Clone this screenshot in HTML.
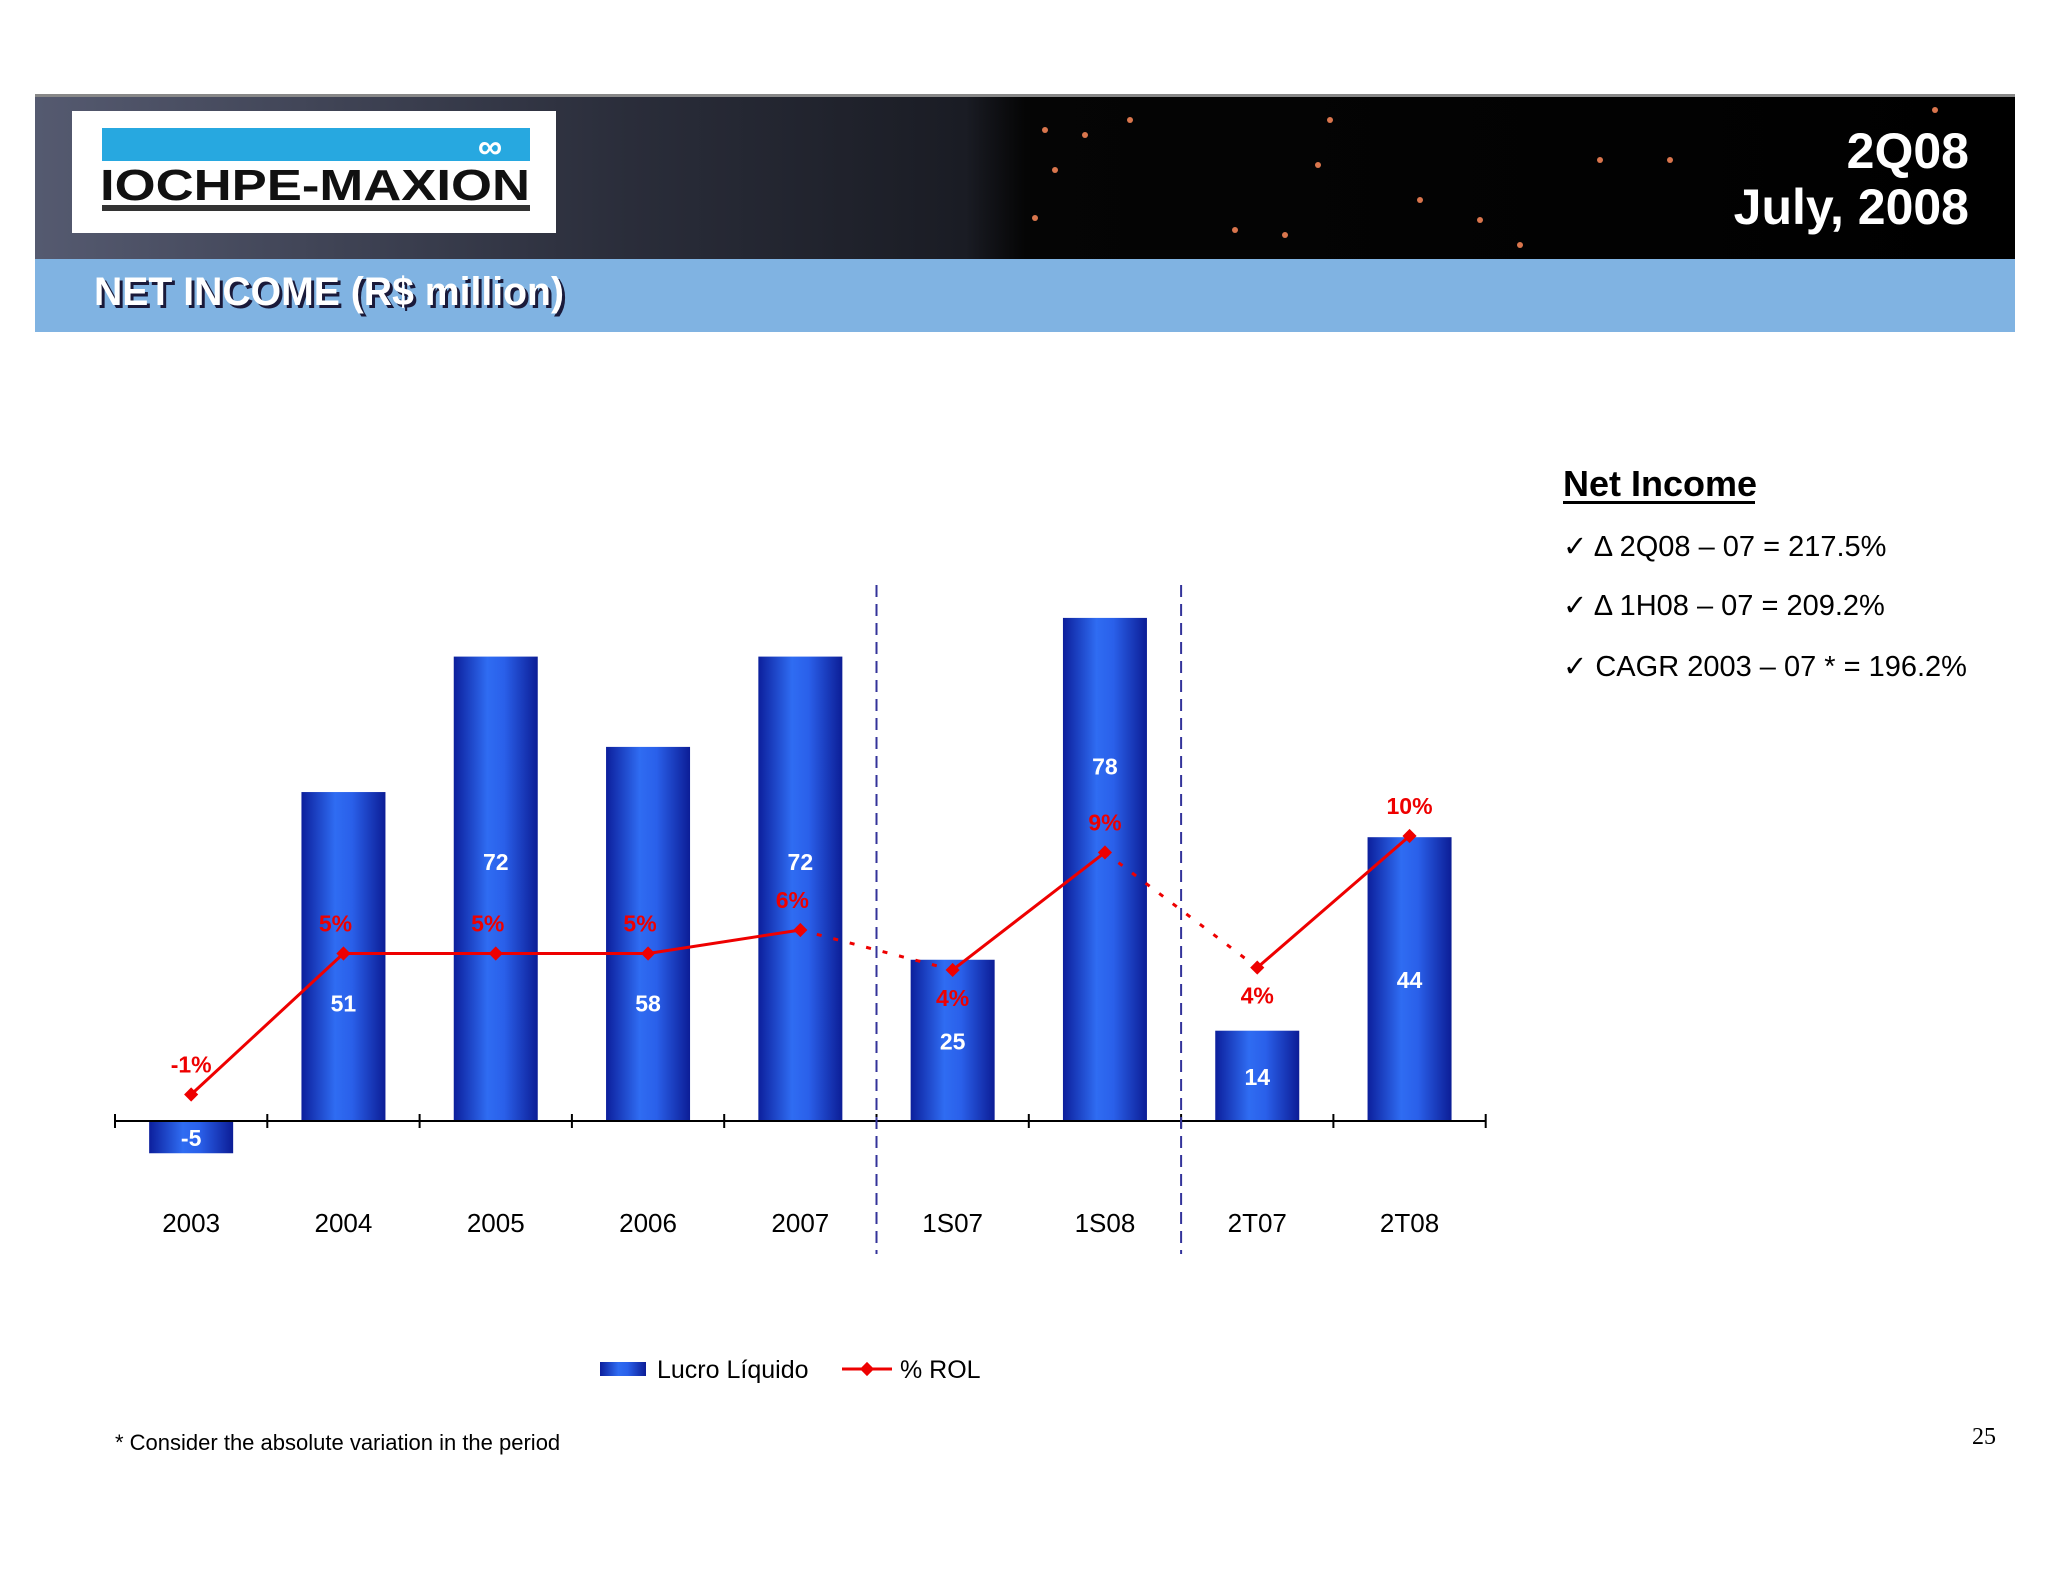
<!DOCTYPE html>
<html><head><meta charset="utf-8"><style>
html,body{margin:0;padding:0;background:#fff;}
svg{display:block;}
</style></head><body>
<svg id="page" width="2048" height="1582" viewBox="0 0 2048 1582" xmlns="http://www.w3.org/2000/svg" font-family="Liberation Sans, sans-serif">
<defs>
<linearGradient id="barGrad" x1="0" x2="1" y1="0" y2="0">
<stop offset="0" stop-color="#0c1f9c"/><stop offset="0.4" stop-color="#2f6cf2"/><stop offset="0.6" stop-color="#2a60ea"/><stop offset="1" stop-color="#0c1d96"/>
</linearGradient>
<linearGradient id="bannerGrad" x1="0" x2="1" y1="0" y2="0">
<stop offset="0" stop-color="#555a70"/><stop offset="0.3" stop-color="#2a2d3a"/><stop offset="0.47" stop-color="#1a1c24"/><stop offset="0.5" stop-color="#050505"/><stop offset="1" stop-color="#000"/>
</linearGradient>
</defs>
<g>
<rect x="35" y="94" width="1980" height="165" fill="url(#bannerGrad)"/>
<rect x="35" y="94" width="1980" height="3" fill="#888"/>
<g fill="#ff8a5a" opacity="0.85">
<circle cx="1045" cy="130" r="3"/><circle cx="1085" cy="135" r="3"/><circle cx="1130" cy="120" r="3"/><circle cx="1055" cy="170" r="3"/><circle cx="1035" cy="218" r="3"/><circle cx="1235" cy="230" r="3"/><circle cx="1285" cy="235" r="3"/><circle cx="1318" cy="165" r="3"/><circle cx="1420" cy="200" r="3"/><circle cx="1480" cy="220" r="3"/><circle cx="1600" cy="160" r="3"/><circle cx="1670" cy="160" r="3"/><circle cx="1520" cy="245" r="3"/><circle cx="1935" cy="110" r="3"/><circle cx="1330" cy="120" r="3"/>
</g>
<rect x="72" y="111" width="484" height="122" fill="#fff"/>
<rect x="102" y="128" width="428" height="33" fill="#27a8e0"/>
<text x="490" y="158" font-size="34" fill="#fff" font-weight="bold" text-anchor="middle">∞</text>
<text x="100" y="200" font-size="44" font-weight="bold" fill="#111" textLength="430" lengthAdjust="spacingAndGlyphs">IOCHPE-MAXION</text>
<rect x="102" y="205" width="428" height="6" fill="#333"/>
<text x="1969" y="168" font-size="50" font-weight="bold" fill="#fff" text-anchor="end">2Q08</text>
<text x="1969" y="224" font-size="50" font-weight="bold" fill="#fff" text-anchor="end">July, 2008</text>
</g>
<rect x="35" y="259" width="1980" height="73" fill="#80b3e2"/>
<text x="97" y="308" font-size="40" font-weight="bold" fill="#1a1a3a" textLength="470" lengthAdjust="spacingAndGlyphs">NET INCOME (R$ million)</text>
<text x="94" y="305" font-size="40" font-weight="bold" fill="#fff" textLength="470" lengthAdjust="spacingAndGlyphs">NET INCOME (R$ million)</text>

<g>
<text x="1563" y="496" font-size="36" font-weight="bold" fill="#000">Net Income</text>
<rect x="1563" y="501" width="192" height="3" fill="#000"/>
<text x="1563" y="556" font-size="29" fill="#000">✓  Δ 2Q08 – 07 = 217.5%</text>
<text x="1563" y="615" font-size="29" fill="#000">✓  Δ 1H08 – 07 = 209.2%</text>
<text x="1563" y="676" font-size="29" fill="#000">✓ CAGR 2003 – 07 * = 196.2%</text>
</g>

<g id="chart"></g>

<g>
<rect x="600" y="1362" width="46" height="14" fill="url(#barGrad)"/>
<text x="657" y="1378" font-size="25" fill="#000">Lucro Líquido</text>
<line x1="842" y1="1369" x2="892" y2="1369" stroke="#e00" stroke-width="3"/>
<rect x="862" y="1364" width="10" height="10" fill="#e00" transform="rotate(45 867 1369)"/>
<text x="900" y="1378" font-size="25" fill="#000">% ROL</text>
</g>
<text x="115" y="1450" font-size="22" fill="#000">* Consider the absolute variation in the period</text>
<text x="1996" y="1444" font-size="24" font-family="Liberation Serif, serif" text-anchor="end" fill="#000">25</text>
</svg>
<script>
const categories = ["2003","2004","2005","2006","2007","1S07","1S08","2T07","2T08"];
const netIncome = [-5, 51, 72, 58, 72, 25, 78, 14, 44];
const rolPct = [-1, 5, 5, 5, 6, 4.3, 9.3, 4.4, 10];
const rolLabels = ["-1%","5%","5%","5%","6%","4%","9%","4%","10%"];
const dottedSegments = [4, 6];

const NS = "http://www.w3.org/2000/svg";
const chart = document.getElementById('chart');
const x0 = 115, catW = 152.3, axisY = 1121, unit = 6.45;
function xC(i){ return x0 + catW*(i+0.5); }
function yBar(v){ return axisY - v*unit; }
function yPct(v){ return 1071 - 23.5*v; }
function mk(tag, attrs){ const e=document.createElementNS(NS,tag); for(const k in attrs) e.setAttribute(k, attrs[k]); chart.appendChild(e); return e; }

categories.forEach((c,i)=>{
  const v = netIncome[i];
  const b = mk('rect',{x:xC(i)-42, y:Math.min(yBar(v),axisY), width:84, height:Math.abs(v)*unit, fill:'url(#barGrad)'});
  
  
});
const ax = mk('line',{x1:x0, y1:axisY, x2:x0+catW*9, y2:axisY, stroke:'#000', 'stroke-width':2});


for(let i=0;i<=categories.length;i++){ mk('line',{x1:x0+catW*i, y1:axisY-7, x2:x0+catW*i, y2:axisY+7, stroke:'#000','stroke-width':2}); }
[5,7].forEach(i=>{
  const s = mk('line',{x1:x0+catW*i, y1:585, x2:x0+catW*i, y2:1254, stroke:'#33339a','stroke-width':2,'stroke-dasharray':'12,7'});
  
  
});
for(let i=0;i<categories.length-1;i++){
  const dotted = dottedSegments.includes(i);
  const l = mk('line',{x1:xC(i), y1:yPct(rolPct[i]), x2:xC(i+1), y2:yPct(rolPct[i+1]), stroke:'#e00', 'stroke-width':3});
  if(dotted) l.setAttribute('stroke-dasharray','5,12');
  
  
}
categories.forEach((c,i)=>{
  const cx=xC(i), cy=yPct(rolPct[i]);
  const p = mk('rect',{x:cx-5, y:cy-5, width:10, height:10, fill:'#e00', transform:'rotate(45 '+cx+' '+cy+')'});
  
  
  const t = mk('text',{x:cx, y:1232, 'font-size':26, 'text-anchor':'middle', fill:'#000'});
  t.textContent = c;
  
  
  const v = netIncome[i];
  let vy;
  if(v<0) vy = axisY + Math.abs(v)*unit/2 + 9;
  else {
    vy = axisY - v*unit*0.5 + 9;
    if(Math.abs(vy - cy) < 70) vy = (v>70) ? cy - 78 : cy + 58;
    if(v>=70 && v<76) vy = axisY - v*unit*0.56 + 9;
  }
  const vl = mk('text',{x:cx, y:vy, 'font-size':23, 'font-weight':'bold', 'text-anchor':'middle', fill:'#fff'});
  vl.textContent = v;
  
  
  const below = (i===5 || i===7);
  const pl = mk('text',{x:cx-(i<5&&i>0?8:0), y: below ? cy+36 : cy-22, 'font-size':23, 'font-weight':'bold', 'text-anchor':'middle', fill:'#e00'});
  pl.textContent = rolLabels[i];
  
  
});
</script>
</body></html>
